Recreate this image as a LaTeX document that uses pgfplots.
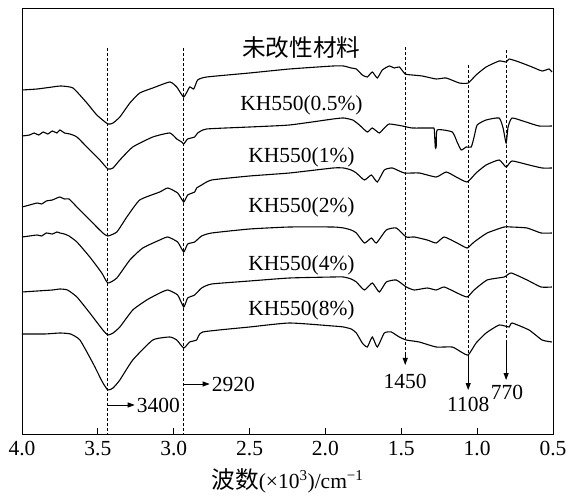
\documentclass[border=0pt]{standalone}
\usepackage{pgfplots}
\pgfplotsset{compat=1.18}
\usepackage{fontspec}
\setmainfont{Liberation Serif}
\newfontfamily\cjk[Scale=1.1]{Noto Sans CJK SC}
\usetikzlibrary{arrows.meta}

\pgfplotstableread{
x y
4.000 344
3.900 345
3.800 347
3.743 348
3.664 346
3.572 331
3.507 319
3.434 310
3.400 311
3.355 317
3.289 331
3.224 341
3.138 346
3.026 352
2.980 347
2.934 337
2.895 347
2.868 345
2.842 354
2.783 357
2.500 361
2.237 365
1.950 368
1.880 368
1.830 366
1.796 365
1.757 359
1.724 357
1.691 362
1.658 356
1.625 364
1.579 368
1.546 366
1.513 367
1.474 360
1.428 359
1.362 358
1.270 355
1.204 356
1.118 351
1.059 351
1.007 359
0.941 367
0.855 373
0.809 372
0.789 375
0.724 372
0.638 367
0.572 363
0.526 365
0.507 362
}\curveA

\pgfplotstableread{
x y
4.000 298
3.950 299
3.920 301
3.890 299
3.860 302
3.830 300
3.800 303
3.770 301
3.750 304
3.720 301
3.684 300
3.638 297
3.553 284
3.487 274
3.434 265
3.400 266
3.355 274
3.270 287
3.138 297
3.026 301
2.980 295
2.947 292
2.934 290
2.908 295
2.862 297
2.842 301
2.783 305
2.500 307
2.237 309
1.950 315
1.880 316
1.820 314
1.776 309
1.724 302
1.691 306
1.645 301
1.612 306
1.579 310
1.493 308
1.428 306
1.296 306
1.283 305
1.276 287
1.270 287
1.263 304
1.164 302
1.132 292
1.105 284
1.072 287
1.039 287
1.020 297
1.000 309
0.941 314
0.855 316
0.829 306
0.809 291
0.796 307
0.770 316
0.678 312
0.592 308
0.507 308
}\curveB

\pgfplotstableread{
x y
4.000 227
3.950 229
3.900 231
3.870 230
3.840 233
3.800 234
3.770 236
3.750 237
3.720 235
3.690 235
3.638 227
3.553 214
3.467 201
3.434 198
3.375 202
3.309 217
3.224 234
3.092 242
3.039 246
2.974 241
2.934 232
2.908 239
2.862 242
2.849 246
2.816 249
2.750 254
2.500 258
2.237 261
1.950 266
1.880 266
1.830 264
1.796 261
1.743 254
1.697 259
1.658 252
1.612 264
1.559 266
1.480 261
1.382 261
1.270 257
1.204 262
1.138 257
1.066 252
1.007 261
0.941 269
0.855 274
0.809 267
0.770 273
0.658 269
0.572 266
0.507 266
}\curveC

\pgfplotstableread{
x y
4.000 197
3.950 198
3.900 199
3.870 198
3.840 201
3.800 200
3.770 202
3.750 201
3.720 200
3.690 198
3.638 192
3.553 177
3.474 161
3.434 151
3.375 156
3.289 174
3.204 186
3.092 194
3.039 197
2.974 192
2.934 182
2.908 190
2.862 192
2.816 198
2.750 201
2.500 205
2.237 207
1.950 207
1.880 206
1.830 204
1.796 201
1.743 191
1.697 196
1.664 191
1.599 204
1.533 206
1.467 197
1.414 197
1.329 194
1.270 191
1.217 197
1.132 191
1.066 186
1.020 192
0.934 201
0.822 207
0.776 207
0.671 206
0.579 201
0.507 201
}\curveD

\pgfplotstableread{
x y
4.000 142
3.900 143
3.800 144
3.750 145
3.700 144
3.638 137
3.553 121
3.467 104
3.434 99
3.400 101
3.355 107
3.270 124
3.178 134
3.092 141
3.039 144
2.974 139
2.934 127
2.908 136
2.862 139
2.816 146
2.750 150
2.500 153
2.237 156
1.950 157
1.880 157
1.830 155
1.796 152
1.743 144
1.691 151
1.645 142
1.599 152
1.533 154
1.467 147
1.414 144
1.329 146
1.270 144
1.217 147
1.132 141
1.066 137
1.020 144
0.934 154
0.822 157
0.776 161
0.671 154
0.579 147
0.507 147
}\curveE

\pgfplotstableread{
x y
4.000 100
3.850 100
3.750 101
3.680 100
3.618 94
3.533 71
3.470 52
3.434 44
3.400 46
3.355 54
3.270 74
3.138 94
3.026 97
2.980 94
2.934 86
2.895 92
2.849 94
2.809 102
2.500 107
2.237 111
1.950 108
1.880 107
1.830 105
1.796 101
1.757 91
1.724 87
1.691 97
1.658 87
1.612 101
1.566 102
1.513 97
1.467 94
1.382 92
1.270 87
1.164 87
1.105 82
1.059 79
1.007 91
0.941 101
0.855 109
0.789 107
0.770 111
0.658 104
0.572 94
0.507 92
}\curveF

\begin{document}
\begin{tikzpicture}
\fontsize{21.5}{25}\selectfont
\begin{axis}[
  name=ax,
  scale only axis,
  width=531pt, height=426pt,
  x dir=reverse,
  xmin=0.5, xmax=4.0,
  ymin=0, ymax=426,
  xtick={4.0,3.5,3.0,2.5,2.0,1.5,1.0,0.5},
  xtick pos=left,
  tick align=inside,
  major tick length=6pt,
  ytick=\empty,
  axis line style={line width=0.9pt},
  every tick/.style={line width=0.9pt, black},
  xticklabel style={/pgf/number format/.cd, fixed, fixed zerofill, precision=1, assume math mode=true},
  tick label style={font=\fontsize{21.5}{25}\selectfont},
  xlabel={{\cjk 波数}(×10\textsuperscript{3})/cm\textsuperscript{−1}},
  xlabel style={font=\fontsize{21.5}{25}\selectfont, yshift=2pt},
  clip=false,
  spec/.style={black, solid, mark=none, line width=1.1pt, smooth, tension=0.3},
]
\addplot[spec] table {\curveA};
\addplot[spec] table {\curveB};
\addplot[spec] table {\curveC};
\addplot[spec] table {\curveD};
\addplot[spec] table {\curveE};
\addplot[spec] table {\curveF};

% dashed reference lines
\draw[line width=0.8pt, dash pattern=on 3pt off 2pt] (axis cs:3.434,386) -- (axis cs:3.434,0);
\draw[line width=0.8pt, dash pattern=on 3pt off 2pt] (axis cs:2.934,386) -- (axis cs:2.934,0);
\draw[line width=0.8pt, dash pattern=on 3pt off 2pt] (axis cs:1.474,387) -- (axis cs:1.474,82);
\draw[line width=0.8pt, dash pattern=on 3pt off 2pt] (axis cs:1.059,369) -- (axis cs:1.059,79);
\draw[line width=0.8pt, dash pattern=on 3pt off 2pt] (axis cs:0.809,384) -- (axis cs:0.809,94);
% arrows
\draw[line width=0.9pt, -{Triangle[length=7pt,width=5pt]}] (axis cs:1.474,82) -- (axis cs:1.474,69);
\draw[line width=0.9pt, -{Triangle[length=7pt,width=5pt]}] (axis cs:1.059,79) -- (axis cs:1.059,44);
\draw[line width=0.9pt, -{Triangle[length=7pt,width=5pt]}] (axis cs:0.809,94) -- (axis cs:0.809,54);
\draw[line width=0.9pt, -{Triangle[length=7pt,width=5pt]}] (axis cs:3.434,29) -- (axis cs:3.257,29);
\draw[line width=0.9pt, -{Triangle[length=7pt,width=5pt]}] (axis cs:2.934,50) -- (axis cs:2.763,50);

\node[anchor=west, inner sep=1pt] at (axis cs:3.250,29) {3400};
\node[anchor=west, inner sep=1pt] at (axis cs:2.756,50) {2920};
\node at (axis cs:1.474,53) {1450};
\node at (axis cs:1.059,30) {1108};
\node at (axis cs:0.803,42) {770};

% curve labels
\node at (axis cs:2.158,386) {\cjk 未改性材料};
\node at (axis cs:2.158,329) {KH550(0.5\%)};
\node at (axis cs:2.158,277) {KH550(1\%)};
\node at (axis cs:2.158,227) {KH550(2\%)};
\node at (axis cs:2.158,169) {KH550(4\%)};
\node at (axis cs:2.158,124) {KH550(8\%)};
\end{axis}
\pgfresetboundingbox
\path ([shift={(-22pt,-63pt)}]ax.south west) rectangle ([shift={(13pt,8pt)}]ax.north east);
\end{tikzpicture}
\end{document}
